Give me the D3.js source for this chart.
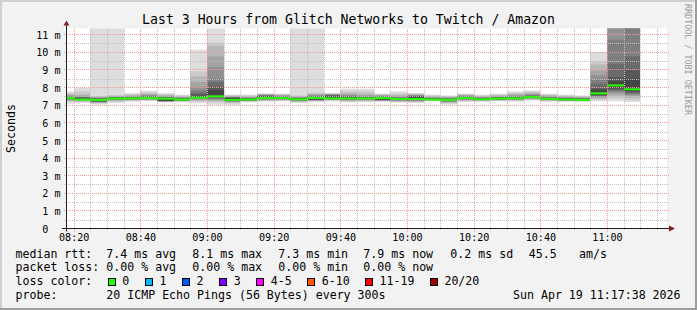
<!DOCTYPE html>
<html>
<head>
<meta charset="utf-8">
<script src="https://cdn.jsdelivr.net/npm/d3@7"></script>
<style>
  body { margin: 0; background: #f2f2f2; }
  svg { display: block; }
  text { font-family: "DejaVu Sans Mono", monospace; white-space: pre; }
</style>
</head>
<body>
<svg id="chart" width="697" height="310"></svg>
<script>
const title = "Last 3 Hours from Glitch Networks to Twitch / Amazon"
const yLabel = "Seconds"
const watermark = "RRDTOOL / TOBI OETIKER"

// 5 minute steps (start of each step)
const slotStart = ["08:15","08:20","08:25","08:30","08:35","08:40","08:45","08:50","08:55",
  "09:00","09:05","09:10","09:15","09:20","09:25","09:30","09:35","09:40","09:45","09:50","09:55",
  "10:00","10:05","10:10","10:15","10:20","10:25","10:30","10:35","10:40","10:45","10:50","10:55",
  "11:00","11:05"]

// median rtt in ms, loss was 0 everywhere
const medianRtt = [7.40,7.32,7.30,7.37,7.38,7.40,7.37,7.32,7.42,7.50,7.30,7.32,7.40,7.40,7.33,7.41,
  7.38,7.38,7.38,7.40,7.35,7.35,7.32,7.30,7.40,7.33,7.37,7.39,7.45,7.36,7.32,7.30,7.67,8.12,7.90]
const lossCount = medianRtt.map(() => 0)

// 20 sorted pings per step, ms
const pings = [
  [7.08,7.2,7.25,7.28,7.3,7.32,7.34,7.36,7.37,7.39,7.41,7.43,7.45,7.47,7.5,7.53,7.57,7.62,7.68,7.78],
  [7.13,7.18,7.22,7.25,7.27,7.29,7.3,7.31,7.31,7.32,7.32,7.4,7.42,7.44,7.46,7.5,7.55,7.6,7.78,7.98],
  [7.03,7.1,7.13,7.15,7.17,7.19,7.2,7.22,7.25,7.29,7.31,7.34,7.36,7.38,7.4,7.42,7.45,7.48,7.52,12.5],
  [7.12,7.2,7.24,7.27,7.29,7.31,7.33,7.34,7.35,7.36,7.38,7.4,7.42,7.44,7.46,7.48,7.5,7.53,7.57,12.5],
  [7.2,7.24,7.27,7.29,7.31,7.32,7.34,7.35,7.36,7.37,7.39,7.41,7.43,7.45,7.47,7.5,7.53,7.57,7.62,7.69],
  [7.24,7.27,7.29,7.31,7.33,7.34,7.36,7.37,7.38,7.39,7.41,7.45,7.48,7.5,7.53,7.57,7.6,7.65,7.72,7.82],
  [7.16,7.18,7.2,7.21,7.22,7.23,7.24,7.25,7.26,7.35,7.39,7.41,7.43,7.45,7.47,7.5,7.53,7.57,7.62,7.69],
  [7.17,7.2,7.22,7.24,7.26,7.27,7.28,7.29,7.3,7.31,7.33,7.35,7.37,7.39,7.41,7.43,7.46,7.5,7.55,7.6],
  [7.1,7.2,7.25,7.3,7.33,7.36,7.38,7.4,7.41,7.42,7.43,7.5,7.62,7.7,7.84,8.03,8.31,8.63,8.92,10.15],
  [7.02,7.15,7.22,7.28,7.32,7.36,7.4,7.43,7.46,7.48,7.52,7.85,8.03,8.32,8.52,9.17,9.77,10.35,10.55,12.5],
  [7.0,7.1,7.15,7.18,7.2,7.22,7.24,7.26,7.28,7.29,7.31,7.4,7.42,7.44,7.46,7.48,7.5,7.53,7.56,7.6],
  [7.16,7.2,7.22,7.24,7.26,7.27,7.28,7.29,7.3,7.31,7.33,7.35,7.37,7.39,7.41,7.43,7.46,7.5,7.55,7.6],
  [7.2,7.24,7.27,7.29,7.31,7.33,7.35,7.36,7.37,7.39,7.41,7.5,7.52,7.54,7.56,7.58,7.6,7.62,7.64,7.66],
  [7.22,7.26,7.28,7.3,7.32,7.34,7.35,7.36,7.37,7.39,7.41,7.43,7.45,7.47,7.5,7.53,7.56,7.59,7.62,7.65],
  [7.12,7.17,7.2,7.23,7.25,7.27,7.29,7.3,7.31,7.32,7.34,7.36,7.38,7.4,7.42,7.44,7.47,7.5,7.55,12.5],
  [7.18,7.22,7.25,7.27,7.28,7.29,7.3,7.31,7.32,7.4,7.42,7.44,7.47,7.5,7.53,7.56,7.6,7.65,7.71,12.5],
  [7.22,7.25,7.28,7.3,7.32,7.33,7.34,7.35,7.36,7.37,7.39,7.52,7.54,7.56,7.58,7.6,7.62,7.64,7.66,7.69],
  [7.16,7.2,7.24,7.27,7.29,7.31,7.33,7.35,7.36,7.37,7.39,7.46,7.48,7.5,7.53,7.57,7.62,7.7,7.8,7.93],
  [7.18,7.22,7.25,7.28,7.3,7.32,7.34,7.35,7.36,7.37,7.39,7.41,7.43,7.45,7.48,7.52,7.58,7.66,7.78,7.93],
  [7.2,7.22,7.24,7.26,7.27,7.28,7.29,7.3,7.31,7.38,7.42,7.44,7.46,7.48,7.5,7.53,7.56,7.59,7.62,7.65],
  [7.14,7.18,7.21,7.24,7.26,7.28,7.3,7.32,7.33,7.34,7.36,7.38,7.4,7.42,7.45,7.48,7.52,7.58,7.66,7.78],
  [7.12,7.17,7.2,7.23,7.25,7.27,7.29,7.31,7.33,7.34,7.36,7.48,7.5,7.52,7.54,7.56,7.58,7.61,7.65,7.69],
  [7.22,7.24,7.26,7.27,7.28,7.29,7.3,7.3,7.31,7.31,7.33,7.35,7.37,7.39,7.41,7.43,7.46,7.5,7.55,7.6],
  [7.03,7.1,7.14,7.17,7.2,7.22,7.24,7.26,7.28,7.29,7.31,7.33,7.35,7.37,7.39,7.41,7.44,7.47,7.51,7.55],
  [7.18,7.22,7.26,7.29,7.31,7.33,7.35,7.36,7.37,7.39,7.41,7.43,7.45,7.47,7.5,7.53,7.56,7.59,7.62,7.65],
  [7.2,7.23,7.25,7.27,7.28,7.29,7.3,7.31,7.32,7.32,7.34,7.36,7.38,7.4,7.42,7.44,7.47,7.51,7.55,7.6],
  [7.22,7.25,7.27,7.29,7.31,7.32,7.33,7.34,7.35,7.36,7.38,7.4,7.42,7.44,7.46,7.49,7.52,7.56,7.6,7.65],
  [7.2,7.24,7.27,7.3,7.32,7.34,7.35,7.36,7.37,7.38,7.4,7.42,7.44,7.47,7.5,7.54,7.58,7.64,7.7,7.78],
  [7.26,7.3,7.33,7.36,7.38,7.4,7.41,7.42,7.43,7.44,7.46,7.48,7.5,7.53,7.56,7.6,7.64,7.7,7.76,7.83],
  [7.2,7.23,7.26,7.28,7.3,7.31,7.32,7.33,7.34,7.35,7.37,7.39,7.41,7.43,7.46,7.49,7.52,7.56,7.6,7.65],
  [7.2,7.22,7.24,7.26,7.27,7.28,7.29,7.3,7.31,7.31,7.33,7.35,7.37,7.39,7.41,7.44,7.47,7.51,7.55,7.6],
  [7.2,7.22,7.23,7.24,7.25,7.26,7.27,7.28,7.29,7.29,7.31,7.33,7.35,7.37,7.39,7.41,7.44,7.47,7.51,7.55],
  [7.22,7.3,7.37,7.42,7.46,7.5,7.53,7.56,7.6,7.65,7.69,7.88,7.95,8.22,8.45,8.69,8.97,9.3,9.49,10.02],
  [7.23,7.37,7.5,7.6,7.7,7.78,7.84,7.9,7.98,8.08,8.16,8.35,8.6,9.35,10.71,12.0,12.5,13.0,13.5,14.0],
  [7.18,7.28,7.4,7.5,7.56,7.62,7.68,7.74,7.8,7.86,7.92,8.5,8.97,9.77,12.0,12.5,13.0,13.5,14.0,14.5],
]

const rttStats = ["7.4 ms avg", "8.1 ms max", "7.3 ms min", "7.9 ms now", "0.2 ms sd", "45.5", "am/s"]
const lossStats = ["0.00 % avg", "0.00 % max", "0.00 % min", "0.00 % now"]
const lossLabels = ["0", "1", "2", "3", "4-5", "6-10", "11-19", "20/20"]
const lossColors = ["#26ff00", "#00b8ff", "#0059ff", "#7e00ff", "#ff00ff", "#ff5500", "#ff0000", "#a10000"]
const probeText = "20 ICMP Echo Pings (56 Bytes) every 300s"
const stamp = "Sun Apr 19 11:17:38 2026"

const toDate = (s) => {
  const [h, m] = s.split(":").map(Number)
  return new Date(2026, 3, 19, h, m)
}

const svg = d3.select("#chart")
const W = 697, H = 310
const plot = { left: 67, right: 667, top: 28.5, bottom: 228.5 }

// background + 3d border
svg.append("rect").attr("width", W).attr("height", H).attr("fill", "#f2f2f2")
svg.append("rect").attr("x", 0).attr("y", 0).attr("width", W).attr("height", 2).attr("fill", "#cfcfcf")
svg.append("rect").attr("x", 0).attr("y", 0).attr("width", 2).attr("height", H).attr("fill", "#cfcfcf")
svg.append("rect").attr("x", 0).attr("y", H - 2).attr("width", W).attr("height", 2).attr("fill", "#9e9e9e")
svg.append("rect").attr("x", W - 2).attr("y", 0).attr("width", 2).attr("height", H).attr("fill", "#9e9e9e")

const xScale = d3.scaleTime()
  .domain([toDate("08:18"), toDate("11:18")])
  .range([plot.left, plot.right])
const yScale = d3.scaleLinear()
  .domain([0, 11.35])
  .range([plot.bottom, plot.top])

svg.append("rect")
  .attr("x", plot.left).attr("y", plot.top)
  .attr("width", plot.right - plot.left).attr("height", plot.bottom - plot.top)
  .attr("fill", "#ffffff")

svg.append("clipPath").attr("id", "canvas_clip")
  .append("rect")
  .attr("x", plot.left).attr("y", plot.top)
  .attr("width", plot.right - plot.left).attr("height", plot.bottom - plot.top)

const g_smoke = svg.append("g").attr("clip-path", "url(#canvas_clip)")

// smoke: band i spans ping i .. ping (21-i), darker towards the middle
const half = 10
const bands = d3.range(1, half)
const steps = slotStart.map((s, k) => ({
  t0: toDate(s),
  t1: d3.timeMinute.offset(toDate(s), 5),
  pings: pings[k],
  median: medianRtt[k],
  loss: lossCount[k],
}))

steps.forEach((d) => {
  const x0 = Math.round(xScale(d.t0))
  const x1 = Math.round(xScale(d.t1))
  bands.forEach((i) => {
    const c = Math.floor((190 / half) * (half - i)) + 50
    const yTop = yScale(d.pings[20 - i])
    const yBot = yScale(d.pings[i - 1])
    g_smoke.append("rect")
      .attr("x", x0).attr("width", x1 - x0)
      .attr("y", yTop).attr("height", Math.max(0, yBot - yTop))
      .attr("fill", d3.rgb(c, c, c))
  })
})

// grid
const g_grid = svg.append("g").attr("shape-rendering", "crispEdges")
const minorX = d3.timeMinute.every(5).range(toDate("08:18"), toDate("11:18"))
  .filter((t) => t.getMinutes() % 20 !== 0)
const majorX = d3.timeMinute.every(20).range(toDate("08:18"), toDate("11:18"))
const minorY = d3.range(0.5, 11.35, 1)
const majorY = d3.range(1, 11.35, 1)

const minorColor = "#c2c2c2"
const majorColor = "#f09a9a"

g_grid.selectAll(".vminor").data(minorX).join("line")
  .attr("x1", (d) => Math.round(xScale(d)) + 0.5).attr("x2", (d) => Math.round(xScale(d)) + 0.5)
  .attr("y1", plot.top).attr("y2", plot.bottom + 2)
  .attr("stroke", minorColor).attr("stroke-dasharray", "1,1")
g_grid.selectAll(".hminor").data(minorY).join("line")
  .attr("x1", plot.left - 3).attr("x2", plot.right + 2)
  .attr("y1", (d) => Math.round(yScale(d)) + 0.5).attr("y2", (d) => Math.round(yScale(d)) + 0.5)
  .attr("stroke", minorColor).attr("stroke-dasharray", "1,1")
g_grid.selectAll(".vmajor").data(majorX).join("line")
  .attr("x1", (d) => Math.round(xScale(d)) + 0.5).attr("x2", (d) => Math.round(xScale(d)) + 0.5)
  .attr("y1", plot.top).attr("y2", plot.bottom + 3)
  .attr("stroke", majorColor).attr("stroke-dasharray", "1,1")
g_grid.selectAll(".hmajor").data(majorY).join("line")
  .attr("x1", plot.left - 3).attr("x2", plot.right + 2)
  .attr("y1", (d) => Math.floor(yScale(d)) + 0.5).attr("y2", (d) => Math.floor(yScale(d)) + 0.5)
  .attr("stroke", majorColor).attr("stroke-dasharray", "1,1")

// median line, colored by loss
const g_median = svg.append("g").attr("clip-path", "url(#canvas_clip)")
steps.forEach((d) => {
  const x0 = Math.round(xScale(d.t0))
  const x1 = Math.round(xScale(d.t1))
  const ym = yScale(d.median)
  let li = 0
  if (d.loss >= 20) li = 7
  else if (d.loss >= 11) li = 6
  else if (d.loss >= 6) li = 5
  else if (d.loss >= 4) li = 4
  else li = d.loss
  g_median.append("rect")
    .attr("x", x0).attr("width", x1 - x0)
    .attr("y", ym - 1).attr("height", 2)
    .attr("fill", lossColors[li])
})

// axes lines + arrows
const axisColor = "#1f1f1f"
const arrowColor = "#801f1f"
svg.append("line").attr("x1", plot.left - 5).attr("x2", plot.right + 3)
  .attr("y1", plot.bottom).attr("y2", plot.bottom).attr("stroke", axisColor)
svg.append("line").attr("x1", plot.left - 0.5).attr("x2", plot.left - 0.5)
  .attr("y1", plot.bottom + 3).attr("y2", plot.top - 3).attr("stroke", axisColor)
svg.append("path")
  .attr("d", `M${plot.right + 2},${plot.bottom - 3}L${plot.right + 8},${plot.bottom}L${plot.right + 2},${plot.bottom + 3}Z`)
  .attr("fill", arrowColor)
svg.append("path")
  .attr("d", `M${plot.left - 3.5},${plot.top - 3}L${plot.left - 0.5},${plot.top - 8}L${plot.left + 2.5},${plot.top - 3}Z`)
  .attr("fill", arrowColor)

// axis labels
const x_axis = d3.axisBottom(xScale)
  .tickValues(majorX)
  .tickFormat(d3.timeFormat("%H:%M"))
  .tickSize(0)
const g_x_axis = svg.append("g")
  .attr("transform", `translate(0,${plot.bottom})`)
  .call(x_axis)
g_x_axis.select(".domain").remove()
g_x_axis.selectAll("text")
  .attr("y", 12.5).attr("dy", null)
  .attr("font-family", "DejaVu Sans Mono").attr("font-size", 10.1).attr("fill", "#000")

const y_axis = d3.axisLeft(yScale)
  .tickValues(d3.range(0, 12, 1))
  .tickFormat((d) => (d === 0 ? "0  " : `${d} m`))
  .tickSize(0)
  .tickPadding(6.5)
const g_y_axis = svg.append("g")
  .attr("transform", `translate(${plot.left},0)`)
  .call(y_axis)
g_y_axis.select(".domain").remove()
g_y_axis.selectAll("text")
  .attr("dy", "0.36em")
  .attr("font-family", "DejaVu Sans Mono").attr("font-size", 10.1).attr("fill", "#000")

// title, unit label, watermark
svg.append("text")
  .attr("x", W / 2).attr("y", 24)
  .attr("text-anchor", "middle").attr("font-size", 13.2)
  .text(title)
svg.append("text")
  .attr("transform", `translate(14.5,${(plot.top + plot.bottom) / 2}) rotate(-90)`)
  .attr("text-anchor", "middle").attr("font-size", 11.6)
  .text(yLabel)
svg.append("text")
  .attr("transform", `translate(684.5,59.5) rotate(90)`)
  .attr("text-anchor", "middle").attr("font-size", 8.4).attr("fill", "#9a9a9a")
  .text(watermark)

// legend
const g_legend = svg.append("g").attr("font-size", 11.6)
const rows = [257.5, 271.3, 285.1, 298.9]
const put = (x, y, t) => g_legend.append("text").attr("x", x).attr("y", y).text(t)

put(15.5, rows[0], "median rtt:")
const rttX = [106.3, 192.3, 278.3, 363.3, 450.3, 528.7, 579]
rttStats.forEach((t, i) => put(rttX[i], rows[0], t))

put(15.5, rows[1], "packet loss:")
const lossX = [106.3, 192.3, 278.3, 363.3]
lossStats.forEach((t, i) => put(lossX[i], rows[1], t))

put(15.5, rows[2], "loss color:")
const cw = 6.92
let bx = 108
lossLabels.forEach((lab, i) => {
  g_legend.append("rect")
    .attr("x", Math.round(bx) + 0.5).attr("y", 278.5)
    .attr("width", 7).attr("height", 7)
    .attr("fill", lossColors[i]).attr("stroke", "#000")
  put(bx + 14.3, rows[2], lab)
  bx = bx + 15 + lab.length * cw + 15.2
})

put(15.5, rows[3], "probe:")
put(106.3, rows[3], probeText)
put(513, rows[3], stamp)
</script>
</body>
</html>
